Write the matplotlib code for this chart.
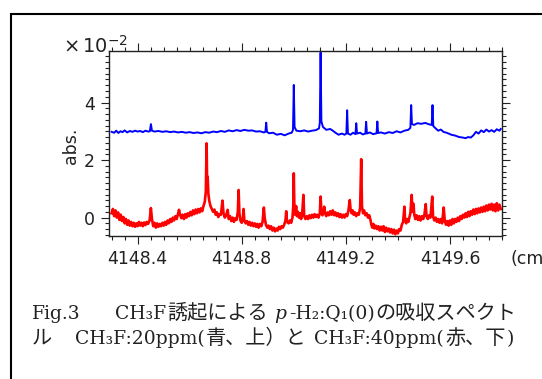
import numpy as np
import matplotlib
matplotlib.use('Agg')
import matplotlib.pyplot as plt
from matplotlib.ticker import MultipleLocator, FormatStrFormatter
from matplotlib.patches import Rectangle

# widma w jednostkach 1e-2
blue_x = [4148.300, 4148.310, 4148.318, 4148.326, 4148.334, 4148.342, 4148.350, 4148.360,
          4148.370, 4148.380, 4148.390, 4148.400, 4148.410, 4148.420, 4148.430, 4148.440,
          4148.447, 4148.451, 4148.455, 4148.465, 4148.480, 4148.495, 4148.510, 4148.525,
          4148.540, 4148.555, 4148.570, 4148.585, 4148.600, 4148.615, 4148.630, 4148.645,
          4148.660, 4148.675, 4148.690, 4148.705, 4148.720, 4148.735, 4148.750, 4148.765,
          4148.780, 4148.795, 4148.810, 4148.825, 4148.840, 4148.855, 4148.870, 4148.885,
          4148.891, 4148.894, 4148.897, 4148.905, 4148.920, 4148.935, 4148.950, 4148.965,
          4148.980, 4148.992, 4148.997, 4149.000, 4149.003, 4149.010, 4149.025, 4149.040,
          4149.055, 4149.070, 4149.085, 4149.097, 4149.100, 4149.103, 4149.106, 4149.112,
          4149.125, 4149.140, 4149.150, 4149.160, 4149.172, 4149.185, 4149.195, 4149.202,
          4149.205, 4149.208, 4149.218, 4149.228, 4149.237, 4149.240, 4149.243, 4149.255,
          4149.265, 4149.275, 4149.278, 4149.281, 4149.292, 4149.305, 4149.318, 4149.321,
          4149.324, 4149.335, 4149.350, 4149.365, 4149.380, 4149.395, 4149.410, 4149.425,
          4149.440, 4149.448, 4149.451, 4149.454, 4149.462, 4149.475, 4149.490, 4149.505,
          4149.520, 4149.530, 4149.533, 4149.536, 4149.545, 4149.555, 4149.565, 4149.575,
          4149.590, 4149.605, 4149.620, 4149.635, 4149.650, 4149.660, 4149.670, 4149.680,
          4149.690, 4149.700, 4149.710, 4149.720, 4149.730, 4149.740, 4149.750, 4149.760,
          4149.770, 4149.780, 4149.790, 4149.795]
blue_y = [2.98, 2.95, 3.02, 2.94, 3.00, 2.97, 3.03, 2.96,
          3.01, 2.98, 3.02, 2.99, 3.01, 2.97, 3.02, 2.99,
          3.00, 3.25, 3.02, 2.99, 3.01, 2.98, 3.00, 2.97,
          2.99, 2.96, 2.98, 2.95, 2.97, 2.94, 2.96, 2.93,
          2.97, 2.95, 2.99, 2.97, 3.01, 2.98, 3.03, 3.00,
          3.04, 3.01, 3.05, 3.02, 3.03, 2.99, 3.00, 2.96,
          2.98, 3.30, 2.98, 2.93, 2.95, 2.88, 2.91, 2.86,
          2.92, 2.95, 3.05, 4.61, 3.15, 3.02, 3.00, 3.03,
          2.99, 3.02, 3.04, 3.10, 3.30, 5.74, 3.35, 3.15,
          3.05, 3.08, 3.02, 2.95, 2.88, 2.92, 2.88, 2.92,
          3.73, 2.92, 2.88, 2.95, 2.90, 3.28, 2.92, 2.95,
          2.89, 2.92, 3.33, 2.92, 2.96, 2.90, 2.93, 3.34,
          2.94, 2.96, 2.92, 2.97, 2.94, 3.00, 2.96, 3.02,
          3.05, 3.12, 3.91, 3.25, 3.22, 3.28, 3.26, 3.29,
          3.24, 3.22, 3.91, 3.18, 3.10, 3.02, 3.06, 2.98,
          2.94, 2.88, 2.85, 2.80, 2.78, 2.76, 2.80, 2.78,
          2.86, 2.98, 2.92, 3.03, 2.97, 3.06, 2.99, 3.04,
          2.98, 3.07, 3.02, 3.08]

red_x = [4148.300, 4148.305, 4148.310, 4148.315, 4148.320, 4148.325, 4148.330, 4148.335,
         4148.340, 4148.345, 4148.350, 4148.355, 4148.360, 4148.365, 4148.370, 4148.375,
         4148.380, 4148.385, 4148.390, 4148.395, 4148.400, 4148.405, 4148.410, 4148.415,
         4148.420, 4148.425, 4148.430, 4148.435, 4148.440, 4148.446, 4148.451, 4148.455,
         4148.460, 4148.465, 4148.470, 4148.475, 4148.480, 4148.485, 4148.490, 4148.495,
         4148.500, 4148.505, 4148.510, 4148.515, 4148.520, 4148.525, 4148.530, 4148.535,
         4148.540, 4148.545, 4148.550, 4148.556, 4148.559, 4148.563, 4148.568, 4148.573,
         4148.578, 4148.583, 4148.588, 4148.593, 4148.598, 4148.603, 4148.608, 4148.613,
         4148.618, 4148.623, 4148.628, 4148.633, 4148.638, 4148.643, 4148.648, 4148.653,
         4148.658, 4148.662, 4148.665, 4148.667, 4148.669, 4148.672, 4148.676, 4148.680,
         4148.685, 4148.690, 4148.695, 4148.700, 4148.705, 4148.710, 4148.715, 4148.720,
         4148.726, 4148.730, 4148.735, 4148.740, 4148.746, 4148.750, 4148.755, 4148.760,
         4148.765, 4148.770, 4148.775, 4148.780, 4148.785, 4148.788, 4148.791, 4148.795,
         4148.800, 4148.804, 4148.807, 4148.810, 4148.815, 4148.820, 4148.825, 4148.830,
         4148.835, 4148.840, 4148.845, 4148.850, 4148.855, 4148.860, 4148.865, 4148.870,
         4148.875, 4148.880, 4148.885, 4148.888, 4148.893, 4148.898, 4148.903, 4148.908,
         4148.913, 4148.918, 4148.923, 4148.928, 4148.933, 4148.938, 4148.943, 4148.948,
         4148.953, 4148.958, 4148.963, 4148.968, 4148.971, 4148.974, 4148.980, 4148.985,
         4148.990, 4148.995, 4148.998, 4149.000, 4149.002, 4149.005, 4149.009, 4149.012,
         4149.016, 4149.020, 4149.024, 4149.028, 4149.032, 4149.037, 4149.040, 4149.045,
         4149.050, 4149.055, 4149.060, 4149.065, 4149.070, 4149.075, 4149.080, 4149.085,
         4149.090, 4149.095, 4149.100, 4149.103, 4149.106, 4149.110, 4149.114, 4149.117,
         4149.120, 4149.125, 4149.130, 4149.135, 4149.140, 4149.145, 4149.150, 4149.155,
         4149.160, 4149.165, 4149.170, 4149.175, 4149.180, 4149.185, 4149.190, 4149.195,
         4149.200, 4149.205, 4149.210, 4149.215, 4149.218, 4149.222, 4149.226, 4149.230,
         4149.235, 4149.240, 4149.245, 4149.250, 4149.255, 4149.259, 4149.262, 4149.266,
         4149.270, 4149.275, 4149.280, 4149.285, 4149.290, 4149.295, 4149.298, 4149.302,
         4149.306, 4149.310, 4149.315, 4149.320, 4149.325, 4149.330, 4149.335, 4149.340,
         4149.345, 4149.350, 4149.355, 4149.360, 4149.365, 4149.370, 4149.375, 4149.380,
         4149.385, 4149.390, 4149.395, 4149.400, 4149.405, 4149.410, 4149.415, 4149.420,
         4149.425, 4149.428, 4149.432, 4149.436, 4149.440, 4149.444, 4149.448, 4149.453,
         4149.456, 4149.460, 4149.463, 4149.467, 4149.472, 4149.477, 4149.482, 4149.487,
         4149.492, 4149.497, 4149.502, 4149.507, 4149.510, 4149.515, 4149.520, 4149.525,
         4149.532, 4149.535, 4149.540, 4149.545, 4149.550, 4149.555, 4149.560, 4149.565,
         4149.570, 4149.576, 4149.580, 4149.585, 4149.590, 4149.595, 4149.600, 4149.605,
         4149.610, 4149.615, 4149.620, 4149.625, 4149.630, 4149.635, 4149.640, 4149.645,
         4149.650, 4149.655, 4149.660, 4149.665, 4149.670, 4149.675, 4149.680, 4149.685,
         4149.690, 4149.695, 4149.700, 4149.705, 4149.710, 4149.715, 4149.720, 4149.725,
         4149.730, 4149.735, 4149.740, 4149.745, 4149.750, 4149.755, 4149.760, 4149.765,
         4149.770, 4149.775, 4149.780, 4149.785, 4149.790, 4149.795]
red_y = [0.15, 0.30, 0.05, 0.25, 0.00, 0.18, -0.08, 0.10,
         -0.12, 0.02, -0.20, -0.05, -0.25, -0.10, -0.28, -0.15,
         -0.30, -0.18, -0.32, -0.20, -0.30, -0.15, -0.28, -0.18,
         -0.30, -0.17, -0.26, -0.15, -0.22, -0.10, 0.33, -0.05,
         -0.30, -0.18, -0.35, -0.20, -0.32, -0.22, -0.30, -0.18,
         -0.28, -0.15, -0.25, -0.10, -0.20, -0.05, -0.15, 0.00,
         -0.10, 0.05, -0.05, 0.15, 0.27, 0.10, -0.02, 0.10,
         -0.05, 0.12, 0.00, 0.15, 0.05, 0.20, 0.08, 0.25,
         0.12, 0.28, 0.15, 0.30, 0.18, 0.32, 0.22, 0.40,
         0.55, 0.90, 2.58, 1.20, 1.42, 0.80, 0.55, 0.40,
         0.30, 0.20, 0.28, 0.10, 0.18, 0.02, 0.12, 0.10,
         0.59, 0.15, 0.00, 0.08, 0.27, -0.05, 0.05, -0.12,
         0.00, -0.15, -0.02, -0.08, 0.20, 0.96, 0.15, -0.10,
         -0.18, -0.05, 0.30, -0.10, -0.20, -0.12, -0.25, -0.15,
         -0.28, -0.18, -0.30, -0.20, -0.32, -0.22, -0.35, -0.22,
         -0.30, -0.15, 0.35, 0.00, -0.25, -0.35, -0.28, -0.40,
         -0.30, -0.45, -0.35, -0.48, -0.38, -0.45, -0.32, -0.40,
         -0.30, -0.35, -0.25, -0.10, 0.22, -0.15, -0.20, -0.10,
         -0.18, 0.00, 0.40, 1.54, 0.50, 0.10, 0.40, 0.05,
         0.20, 0.00, 0.15, -0.05, 0.10, 0.79, 0.05, -0.05,
         0.05, -0.05, 0.08, -0.02, 0.10, 0.00, 0.12, 0.02,
         0.10, 0.00, 0.15, 0.73, 0.20, 0.08, 0.20, 0.38,
         0.15, 0.05, 0.18, 0.08, 0.22, 0.10, 0.25, 0.08,
         0.18, 0.05, 0.15, 0.02, 0.12, 0.00, 0.10, 0.00,
         0.12, 0.05, 0.25, 0.61, 0.30, 0.15, 0.25, 0.10,
         0.18, 0.05, 0.15, 0.10, 0.35, 2.03, 0.40, 0.15,
         0.25, 0.08, 0.15, 0.00, 0.08, -0.10, -0.25, -0.35,
         -0.22, -0.38, -0.28, -0.40, -0.30, -0.45, -0.32, -0.45,
         -0.30, -0.50, -0.35, -0.48, -0.38, -0.52, -0.40, -0.55,
         -0.42, -0.58, -0.45, -0.55, -0.40, -0.45, -0.25, -0.15,
         0.38, -0.10, -0.20, -0.05, -0.15, 0.00, 0.15, 0.79,
         0.20, 0.48, 0.10, -0.05, 0.08, -0.08, 0.05, -0.10,
         0.05, -0.05, 0.10, 0.47, 0.05, -0.05, 0.08, 0.00,
         0.73, 0.05, -0.10, 0.00, -0.15, -0.05, -0.18, -0.05,
         -0.20, 0.35, -0.10, -0.25, -0.12, -0.28, -0.10, -0.25,
         -0.05, -0.20, -0.05, -0.15, 0.00, -0.12, 0.05, -0.05,
         0.10, 0.00, 0.15, 0.02, 0.20, 0.05, 0.22, 0.10,
         0.28, 0.12, 0.30, 0.15, 0.32, 0.18, 0.35, 0.20,
         0.38, 0.22, 0.42, 0.25, 0.45, 0.28, 0.48, 0.25,
         0.45, 0.22, 0.50, 0.25, 0.45, 0.30]

W, H = 542, 379
fig = plt.figure(figsize=(W / 100, H / 100), dpi=100)
fig.patch.set_facecolor('white')

# ramka wokół całości (ucięta z prawej i u dołu)
fig.patches.append(Rectangle((11 / W, -0.2), 1.5, 1.2 - 14 / H, transform=fig.transFigure,
                             fill=False, lw=1.5, ec='black'))

ax = fig.add_axes([109 / W, 1 - 236 / H, (502 - 109) / W, (236 - 51) / H])
ax.plot(blue_x, blue_y, color='#0000ff', lw=1.4)
ax.plot(red_x, red_y, color='#ff0000', lw=1.9)

ax.set_xlim(4148.29, 4149.80)
ax.set_ylim(-0.64, 5.79)
ax.xaxis.set_major_locator(MultipleLocator(0.4))
ax.xaxis.set_minor_locator(MultipleLocator(0.05))
ax.xaxis.set_major_formatter(FormatStrFormatter('%.1f'))
ax.yaxis.set_major_locator(MultipleLocator(2))
ax.yaxis.set_minor_locator(MultipleLocator(0.2))
ax.tick_params(which='both', direction='out', top=True, right=True, width=0.8,
               color='#222222', labelsize=12.5, labelcolor='#222222')
ax.tick_params(which='major', length=6, pad=4)
ax.tick_params(which='minor', length=3.2)
for s in ax.spines.values():
    s.set_linewidth(1.0)
    s.set_color('#222222')

fig.text(71 / W, 1 - 146 / H, 'abs.', rotation=90, ha='center', va='center',
         fontsize=12.5, color='#222222')
fig.text(63 / W, 1 - 53 / H, r'$\times\,10^{-2}$', ha='left', va='baseline',
         fontsize=14, color='#222222')
fig.text(510 / W, 1 - 264 / H, '(cm', ha='left', va='baseline',
         fontsize=12.5, color='#222222')

# podpis: kawałki łacińskie (szeryfowe) i japońskie
latin = dict(family='DejaVu Serif', fontsize=13.5)
latin_i = dict(family='DejaVu Serif', fontsize=13.5, style='italic')
cjk = dict(family='Noto Sans CJK JP', fontsize=14.5)

renderer = fig.canvas.get_renderer()


def run(x0, y0, parts):
    x = x0
    for txt, props in parts:
        t = fig.text(x / W, 1 - y0 / H, txt, ha='left', va='baseline', color='#222222', **props)
        x = t.get_window_extent(renderer).x1 + 1.3


run(32, 319, [('Fig.3', latin)])
run(115, 319, [('CH\u2083F', latin), ('誘起による', cjk), (' p', latin_i),
               ('-H\u2082:Q\u2081(0)', latin), ('の吸収スペクト', cjk)])
run(32, 344, [('ル', cjk)])
run(75, 344, [('CH\u2083F:20ppm(', latin), ('青、上）と', cjk),
              (' CH\u2083F:40ppm(', latin), ('赤、下', cjk), (')', latin)])

plt.savefig('out.png', dpi=100)
